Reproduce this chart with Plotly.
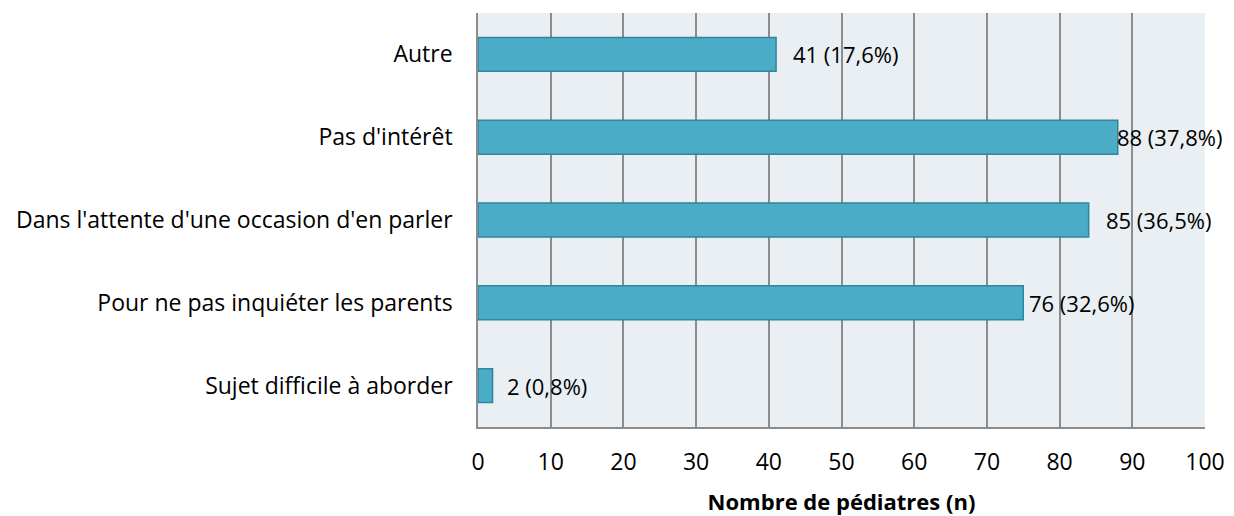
import plotly.graph_objects as go

categories = ["Sujet difficile à aborder", "Pour ne pas inquiéter les parents",
              "Dans l'attente d'une occasion d'en parler", "Pas d'intérêt", "Autre"]
values = [2, 75, 84, 88, 41]
labels = ["2 (0,8%)", "76 (32,6%)", "85 (36,5%)", "88 (37,8%)", "41 (17,6%)"]
label_shift = [12, 4, 15, -3, 15]
x_ticks = [0, 10, 20, 30, 40, 50, 60, 70, 80, 90, 100]

FONT = "Open Sans"
FS = 23
LABEL_FS = 22

fig = go.Figure(go.Bar(
    y=categories, x=values, orientation="h",
    marker=dict(color="#4aacc6", line=dict(color="#31859c", width=1.5)),
    hoverinfo="skip",
))

for c, v, t, s in zip(categories, values, labels, label_shift):
    fig.add_annotation(x=v, y=c, text=t, showarrow=False, xanchor="left",
                       xshift=s, font=dict(family=FONT, size=LABEL_FS, color="#000000"))

# page body has an 8px default margin; compensate so the plot sits where the reference has it
fig.update_layout(
    width=1226, height=508,
    margin=dict(l=470, r=29, t=5, b=89),
    paper_bgcolor="white", plot_bgcolor="#e9eff3",
    bargap=0.59,
    showlegend=False,
    font=dict(family=FONT, size=FS, color="#000000"),
)
fig.update_xaxes(
    range=[0, 100], tickvals=x_ticks, ticktext=[str(v) for v in x_ticks],
    showgrid=True, gridcolor="#8c8c8c", gridwidth=1.5,
    showline=True, linecolor="#8c8c8c", linewidth=1.5,
    zeroline=False, ticks="", ticklabelstandoff=14, automargin=False,
    title=dict(text="<b>Nombre de pédiatres (n)</b>", font=dict(family=FONT, size=22), standoff=23),
    fixedrange=True,
)
fig.update_yaxes(
    showgrid=False, showline=True, linecolor="#8c8c8c", linewidth=1.5,
    ticks="", ticklabelstandoff=19, automargin=False, fixedrange=True,
)

fig.write_html("out.html")
